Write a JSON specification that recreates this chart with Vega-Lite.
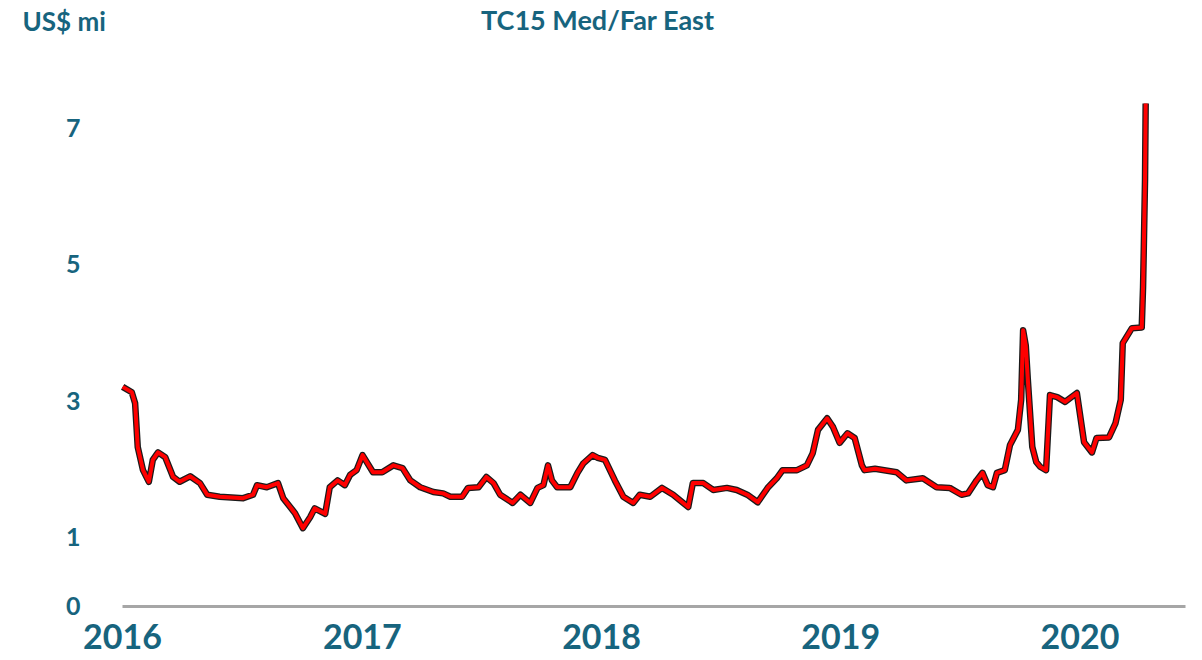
{
  "$schema": "https://vega.github.io/schema/vega-lite/v6.json",
  "autosize": "none",
  "width": 1063,
  "height": 512,
  "padding": {"left": 122, "top": 94, "right": 17, "bottom": 54},
  "background": "white",
  "config": {"view": {"stroke": null}, "font": "Lato"},
  "title": {
    "text": "TC15 Med/Far East",
    "anchor": "middle",
    "dx": -56,
    "offset": 0,
    "dy": 27,
    "font": "Lato",
    "fontSize": 27,
    "fontWeight": "bold",
    "color": "#17647E"
  },
  "data": {
    "values": [
      {"date": "2016-01-02", "v": 3.21},
      {"date": "2016-01-16", "v": 3.13},
      {"date": "2016-01-21", "v": 2.97},
      {"date": "2016-01-25", "v": 2.33},
      {"date": "2016-02-02", "v": 1.99},
      {"date": "2016-02-11", "v": 1.82},
      {"date": "2016-02-17", "v": 2.14},
      {"date": "2016-02-25", "v": 2.25},
      {"date": "2016-03-07", "v": 2.18},
      {"date": "2016-03-19", "v": 1.89},
      {"date": "2016-03-29", "v": 1.82},
      {"date": "2016-04-14", "v": 1.9},
      {"date": "2016-04-29", "v": 1.8},
      {"date": "2016-05-10", "v": 1.63},
      {"date": "2016-05-29", "v": 1.6},
      {"date": "2016-07-04", "v": 1.58},
      {"date": "2016-07-19", "v": 1.63},
      {"date": "2016-07-25", "v": 1.77},
      {"date": "2016-08-09", "v": 1.74},
      {"date": "2016-08-26", "v": 1.8},
      {"date": "2016-09-03", "v": 1.58},
      {"date": "2016-09-21", "v": 1.36},
      {"date": "2016-10-03", "v": 1.14},
      {"date": "2016-10-14", "v": 1.3},
      {"date": "2016-10-21", "v": 1.43},
      {"date": "2016-11-06", "v": 1.35},
      {"date": "2016-11-13", "v": 1.74},
      {"date": "2016-11-25", "v": 1.84},
      {"date": "2016-12-06", "v": 1.77},
      {"date": "2016-12-14", "v": 1.92},
      {"date": "2016-12-24", "v": 1.99},
      {"date": "2017-01-02", "v": 2.21},
      {"date": "2017-01-18", "v": 1.96},
      {"date": "2017-02-01", "v": 1.96},
      {"date": "2017-02-18", "v": 2.06},
      {"date": "2017-03-04", "v": 2.02},
      {"date": "2017-03-16", "v": 1.84},
      {"date": "2017-03-31", "v": 1.74},
      {"date": "2017-04-20", "v": 1.67},
      {"date": "2017-05-05", "v": 1.65},
      {"date": "2017-05-16", "v": 1.6},
      {"date": "2017-06-03", "v": 1.6},
      {"date": "2017-06-12", "v": 1.73},
      {"date": "2017-06-28", "v": 1.74},
      {"date": "2017-07-10", "v": 1.89},
      {"date": "2017-07-21", "v": 1.8},
      {"date": "2017-07-31", "v": 1.63},
      {"date": "2017-08-19", "v": 1.51},
      {"date": "2017-08-31", "v": 1.63},
      {"date": "2017-09-15", "v": 1.51},
      {"date": "2017-09-26", "v": 1.73},
      {"date": "2017-10-05", "v": 1.77},
      {"date": "2017-10-12", "v": 2.06},
      {"date": "2017-10-18", "v": 1.84},
      {"date": "2017-10-26", "v": 1.74},
      {"date": "2017-11-15", "v": 1.74},
      {"date": "2017-11-26", "v": 1.95},
      {"date": "2017-12-05", "v": 2.09},
      {"date": "2017-12-19", "v": 2.21},
      {"date": "2017-12-27", "v": 2.17},
      {"date": "2018-01-07", "v": 2.14},
      {"date": "2018-01-22", "v": 1.84},
      {"date": "2018-02-04", "v": 1.6},
      {"date": "2018-02-19", "v": 1.51},
      {"date": "2018-03-01", "v": 1.63},
      {"date": "2018-03-17", "v": 1.6},
      {"date": "2018-04-04", "v": 1.73},
      {"date": "2018-04-21", "v": 1.63},
      {"date": "2018-05-05", "v": 1.52},
      {"date": "2018-05-14", "v": 1.45},
      {"date": "2018-05-21", "v": 1.8},
      {"date": "2018-06-06", "v": 1.8},
      {"date": "2018-06-21", "v": 1.7},
      {"date": "2018-07-12", "v": 1.73},
      {"date": "2018-07-27", "v": 1.7},
      {"date": "2018-08-12", "v": 1.63},
      {"date": "2018-08-28", "v": 1.52},
      {"date": "2018-09-13", "v": 1.74},
      {"date": "2018-09-26", "v": 1.87},
      {"date": "2018-10-05", "v": 1.99},
      {"date": "2018-10-27", "v": 1.99},
      {"date": "2018-11-11", "v": 2.06},
      {"date": "2018-11-20", "v": 2.24},
      {"date": "2018-11-28", "v": 2.58},
      {"date": "2018-12-12", "v": 2.75},
      {"date": "2018-12-21", "v": 2.62},
      {"date": "2018-12-31", "v": 2.39},
      {"date": "2019-01-12", "v": 2.53},
      {"date": "2019-01-23", "v": 2.46},
      {"date": "2019-02-03", "v": 2.06},
      {"date": "2019-02-07", "v": 1.99},
      {"date": "2019-02-23", "v": 2.01},
      {"date": "2019-03-28", "v": 1.96},
      {"date": "2019-04-12", "v": 1.84},
      {"date": "2019-05-07", "v": 1.87},
      {"date": "2019-05-28", "v": 1.74},
      {"date": "2019-06-17", "v": 1.73},
      {"date": "2019-07-05", "v": 1.63},
      {"date": "2019-07-15", "v": 1.65},
      {"date": "2019-07-28", "v": 1.84},
      {"date": "2019-08-06", "v": 1.95},
      {"date": "2019-08-14", "v": 1.77},
      {"date": "2019-08-22", "v": 1.74},
      {"date": "2019-08-28", "v": 1.95},
      {"date": "2019-09-09", "v": 1.99},
      {"date": "2019-09-17", "v": 2.36},
      {"date": "2019-09-29", "v": 2.58},
      {"date": "2019-10-04", "v": 3.02},
      {"date": "2019-10-07", "v": 4.04},
      {"date": "2019-10-11", "v": 3.82},
      {"date": "2019-10-14", "v": 3.34},
      {"date": "2019-10-21", "v": 2.33},
      {"date": "2019-10-27", "v": 2.11},
      {"date": "2019-11-02", "v": 2.04},
      {"date": "2019-11-11", "v": 1.99},
      {"date": "2019-11-17", "v": 3.09},
      {"date": "2019-11-28", "v": 3.06},
      {"date": "2019-12-10", "v": 2.99},
      {"date": "2019-12-28", "v": 3.12},
      {"date": "2020-01-08", "v": 2.4},
      {"date": "2020-01-20", "v": 2.25},
      {"date": "2020-01-27", "v": 2.46},
      {"date": "2020-02-15", "v": 2.47},
      {"date": "2020-02-25", "v": 2.68},
      {"date": "2020-03-04", "v": 3.02},
      {"date": "2020-03-07", "v": 3.85},
      {"date": "2020-03-21", "v": 4.07},
      {"date": "2020-04-05", "v": 4.08},
      {"date": "2020-04-07", "v": 4.67},
      {"date": "2020-04-08", "v": 5.17},
      {"date": "2020-04-10", "v": 6.24},
      {"date": "2020-04-11", "v": 7.36}
    ]
  },
  "encoding": {
    "x": {
      "field": "date",
      "type": "temporal",
      "scale": {"domain": ["2016-01-01", "2020-06-10"]},
      "axis": {
        "title": null,
        "format": "%Y",
        "tickCount": {"interval": "year", "step": 1},
        "grid": false,
        "ticks": false,
        "domain": true,
        "domainColor": "#a6a6a6",
        "domainWidth": 3,
        "labelFont": "Lato",
        "labelFontSize": 34,
        "labelFontWeight": "bold",
        "labelColor": "#17647E",
        "labelPadding": 15,
        "labelFlush": false,
        "labelOverlap": false
      }
    },
    "y": {
      "field": "v",
      "type": "quantitative",
      "scale": {"domain": [0, 7.5], "nice": false, "zero": true},
      "axis": {
        "values": [0, 1, 3, 5, 7],
        "grid": false,
        "ticks": false,
        "domain": false,
        "labelFont": "Lato",
        "labelFontSize": 25,
        "labelFontWeight": "bold",
        "labelColor": "#17647E",
        "labelPadding": 42,
        "title": "US$ mi",
        "titleAngle": 0,
        "titleX": -100,
        "titleY": -64,
        "titleAlign": "left",
        "titleBaseline": "alphabetic",
        "titleFont": "Lato",
        "titleFontSize": 26,
        "titleFontWeight": "bold",
        "titleColor": "#17647E"
      }
    }
  },
  "layer": [
    {"mark": {"type": "line", "color": "#1a1a1a", "strokeWidth": 6.5, "strokeJoin": "round"}},
    {"mark": {"type": "line", "color": "#ff0000", "strokeWidth": 4, "strokeJoin": "round"}}
  ]
}
